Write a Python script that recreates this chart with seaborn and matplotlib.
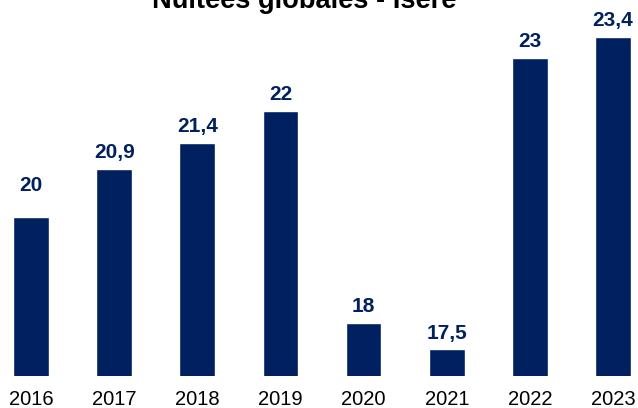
import matplotlib
matplotlib.use("Agg")
import matplotlib.pyplot as plt
import seaborn as sns
import pandas as pd

years = ["2016", "2017", "2018", "2019", "2020", "2021", "2022", "2023"]
nuitees = [20, 20.9, 21.4, 22, 18, 17.5, 23, 23.4]

sns.set_style("white")
plt.rcParams["font.family"] = ["Liberation Sans", "DejaVu Sans"]

df = pd.DataFrame({"annee": years, "nuitees": nuitees})

fig = plt.figure(figsize=(6.38, 4.08), dpi=100)
ax = fig.add_axes([0, 32 / 408, 1, 376 / 408])

sns.barplot(data=df, x="annee", y="nuitees", color="#002060", width=0.43,
            saturation=1, ax=ax)

ax.set_ylim(17, 24.09)
ax.set_xlim(-0.373, 7.30)

# labels with french decimal comma
labels = [f"{v:g}".replace(".", ",") for v in nuitees]
for i, (v, lab) in enumerate(zip(nuitees, labels)):
    pad = 16 if i == 0 else 5
    ax.annotate(lab, (i, v), xytext=(0, pad), textcoords="offset points",
                ha="center", va="bottom", fontsize=15, fontweight="bold",
                color="#002060")

ax.set_xlabel("")
ax.set_ylabel("")
ax.set_yticks([])
ax.tick_params(axis="x", length=0, pad=10, labelsize=14.5, labelcolor="black")
sns.despine(left=True, bottom=True)

# title is partly cropped at the top, as in the original image
fig.text(304 / 638, (408 - 8.5) / 408, "Nuitées globales - Isère", ha="center",
         va="baseline", fontsize=19.6, fontweight="bold", color="black")

fig.savefig("out.png", dpi=100)
